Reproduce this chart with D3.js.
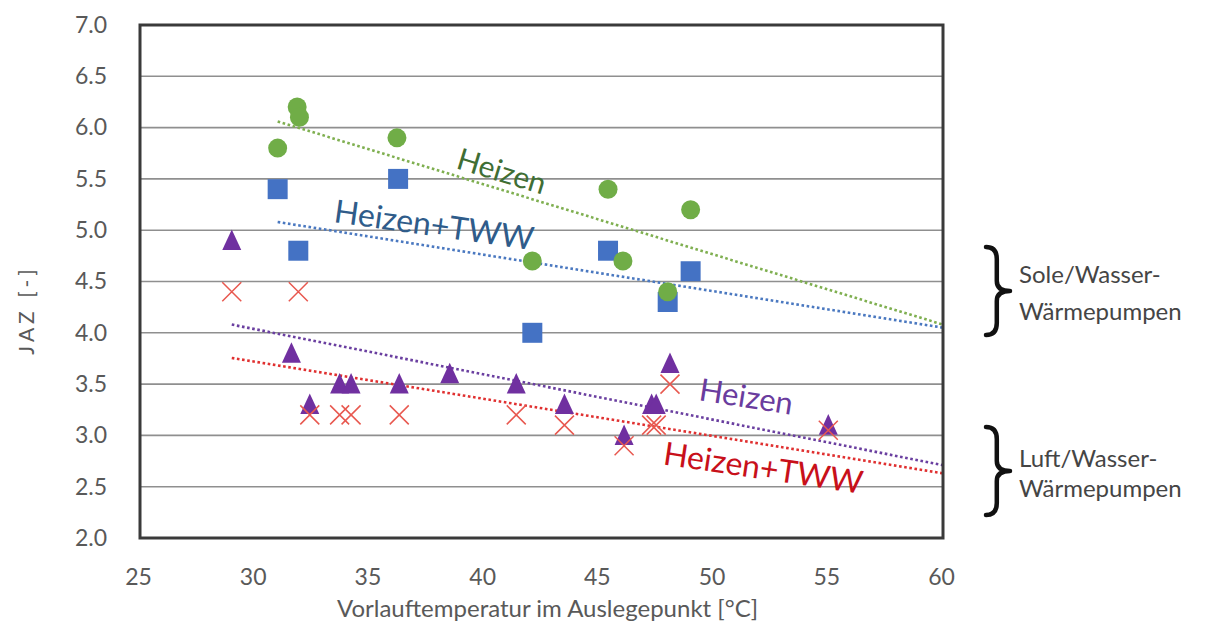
<!DOCTYPE html>
<html><head><meta charset="utf-8">
<script src="https://cdn.jsdelivr.net/npm/d3@7"></script>
<style>
body{margin:0;background:#fff}
svg{display:block;font-family:Lato,"Open Sans",sans-serif}
</style>
</head><body>
<svg id="chart" width="1206" height="626"></svg>
<script>
// ---- data ----
const xTicks = [25, 30, 35, 40, 45, 50, 55, 60];
const yTicks = [2.0, 2.5, 3.0, 3.5, 4.0, 4.5, 5.0, 5.5, 6.0, 6.5, 7.0];

// Sole/Wasser – Heizen (green circles)
const soleHeizenX = [31.0, 31.85, 31.95, 36.2, 42.1, 45.4, 46.05, 49.0, 48.0];
const soleHeizenY = [5.8, 6.2, 6.1, 5.9, 4.7, 5.4, 4.7, 5.2, 4.4];
// Sole/Wasser – Heizen+TWW (blue squares)
const soleTwwX = [31.0, 31.9, 36.25, 42.1, 45.4, 48.0, 49.0];
const soleTwwY = [5.4, 4.8, 5.5, 4.0, 4.8, 4.3, 4.6];
// Luft/Wasser – Heizen (purple triangles)
const luftHeizenX = [29.0, 31.6, 32.4, 33.7, 34.2, 36.3, 38.5, 41.4, 43.5, 46.1, 47.3, 47.5, 48.1, 55.0];
const luftHeizenY = [4.9, 3.8, 3.3, 3.5, 3.5, 3.5, 3.6, 3.5, 3.3, 3.0, 3.3, 3.3, 3.7, 3.1];
// Luft/Wasser – Heizen+TWW (red crosses)
const luftTwwX = [29.0, 31.9, 32.4, 33.7, 34.2, 36.3, 41.4, 43.5, 46.1, 47.3, 47.5, 48.1, 55.0];
const luftTwwY = [4.4, 4.4, 3.2, 3.2, 3.2, 3.2, 3.2, 3.1, 2.9, 3.1, 3.1, 3.5, 3.05];

// trendlines (start / end)
const trendNames = ["soleHeizen", "soleTww", "luftHeizen", "luftTww"];
const trendX0 = [31, 31, 29, 29];
const trendY0 = [6.06, 5.08, 4.08, 3.755];
const trendX1 = [60, 60, 60, 60];
const trendY1 = [4.08, 4.05, 2.71, 2.63];

const labelTexts = ["Heizen", "Heizen+TWW", "Heizen", "Heizen+TWW"];
const labelX = [38.73, 33.41, 49.32, 47.76];
const labelY = [5.606, 5.08, 3.345, 2.72];

const xTitle = "Vorlauftemperatur im Auslegepunkt [°C]";
const yTitle = "JAZ [-]";
const groupLine1 = ["Sole/Wasser-", "Luft/Wasser-"];
const groupLine2 = ["Wärmepumpen", "Wärmepumpen"];

// ---- styles ----
const cGreen = "#70AD47", cBlue = "#4472C4", cPurple = "#7030A0", cRed = "#E8584F";
const trendColors = ["#7FAF50", "#4A78C0", "#6A3FA0", "#E03030"];
const labelColors = ["#3F6E34", "#2F5C8A", "#6A3C9E", "#C8101A"];
const labelSizes = [30, 32, 31, 32];
const labelAngles = [17, 8, 9, 8.5];

const svg = d3.select("#chart");
svg.append("rect").attr("width", 1206).attr("height", 626).attr("fill", "#fff");

const x = d3.scaleLinear().domain([25, 60]).range([140, 943]);
const y = d3.scaleLinear().domain([2, 7]).range([538, 25]);

// gridlines
svg.append("g").selectAll("line").data(yTicks.filter(v => v > 2 && v < 7)).join("line")
  .attr("x1", x(25)).attr("x2", x(60))
  .attr("y1", d => y(d)).attr("y2", d => y(d))
  .attr("stroke", "#8f8f8f").attr("stroke-width", 1.6);

// axes
const xAxis = svg.append("g").attr("transform", `translate(0,${y(2)})`)
  .call(d3.axisBottom(x).tickValues(xTicks).tickSize(0).tickPadding(31).tickFormat(d3.format("d")));
const yAxis = svg.append("g").attr("transform", `translate(${x(25)},0)`)
  .call(d3.axisLeft(y).tickValues(yTicks).tickSize(0).tickPadding(33).tickFormat(d3.format(".1f")));
[xAxis, yAxis].forEach(a => {
  a.select(".domain").remove();
  a.selectAll("text").attr("fill", "#595959").style("font-size", "23px").style("font-family", "Lato");
});
xAxis.selectAll("text").attr("dx", "-2px");

// trendlines
const line = d3.line().x(d => x(d[0])).y(d => y(d[1]));
svg.append("g").selectAll("path").data(trendNames.map((n, i) => ({
  n, c: trendColors[i], pts: [[trendX0[i], trendY0[i]], [trendX1[i], trendY1[i]]]
}))).join("path")
  .attr("d", d => line(d.pts))
  .attr("fill", "none").attr("stroke", d => d.c)
  .attr("stroke-width", 2.6).attr("stroke-dasharray", "2.6 2.6");

// custom marker types
const triangleType = { draw(ctx, s) { const h = s; ctx.moveTo(0, -h * 0.58); ctx.lineTo(h * 0.5, h * 0.5); ctx.lineTo(-h * 0.5, h * 0.5); ctx.closePath(); } };
const squareType = { draw(ctx, s) { ctx.rect(-s / 2, -s / 2, s, s); } };
const crossType = { draw(ctx, s) { const r = s / 2; ctx.moveTo(-r, -r); ctx.lineTo(r, r); ctx.moveTo(r, -r); ctx.lineTo(-r, r); } };

function pts(xs, ys) { return xs.map((v, i) => [v, ys[i]]); }

// blue squares
svg.append("g").selectAll("path").data(pts(soleTwwX, soleTwwY)).join("path")
  .attr("transform", d => `translate(${x(d[0])},${y(d[1])})`)
  .attr("d", d3.symbol().type(squareType).size(20)())
  .attr("fill", cBlue);
// green circles
svg.append("g").selectAll("circle").data(pts(soleHeizenX, soleHeizenY)).join("circle")
  .attr("cx", d => x(d[0])).attr("cy", d => y(d[1])).attr("r", 9.5)
  .attr("fill", cGreen);
// purple triangles
svg.append("g").selectAll("path").data(pts(luftHeizenX, luftHeizenY)).join("path")
  .attr("transform", d => `translate(${x(d[0])},${y(d[1])})`)
  .attr("d", d3.symbol().type(triangleType).size(19)())
  .attr("fill", cPurple);
// red crosses
svg.append("g").selectAll("path").data(pts(luftTwwX, luftTwwY)).join("path")
  .attr("transform", d => `translate(${x(d[0])},${y(d[1])})`)
  .attr("d", d3.symbol().type(crossType).size(19)())
  .attr("fill", "none").attr("stroke", cRed).attr("stroke-width", 1.5);

// plot border
svg.append("rect").attr("x", x(25)).attr("y", y(7))
  .attr("width", x(60) - x(25)).attr("height", y(2) - y(7))
  .attr("fill", "none").attr("stroke", "#3a3a3a").attr("stroke-width", 3);

// trend labels
svg.append("g").selectAll("text").data(labelTexts).join("text")
  .attr("transform", (d, i) => `translate(${x(labelX[i])},${y(labelY[i])}) rotate(${labelAngles[i]})`)
  .attr("fill", (d, i) => labelColors[i])
  .style("font-size", (d, i) => labelSizes[i] + "px")
  .text(d => d);

// axis titles
svg.append("text").attr("x", (x(25) + x(60)) / 2 + 6).attr("y", 617)
  .attr("text-anchor", "middle").attr("fill", "#595959").style("font-size", "24px")
  .text(xTitle);
svg.append("text").attr("transform", "translate(34,310) rotate(-90)")
  .attr("text-anchor", "middle").attr("fill", "#595959").style("font-size", "21px")
  .style("letter-spacing", "4px").text(yTitle);

// group braces + labels
const braceTop = [247, 427], braceBot = [335, 515];
function bracePath(x0, t, b, w) {
  const m = (t + b) / 2, xm = x0 + w * 0.45;
  return `M${x0},${t} Q${xm},${t} ${xm},${t + 12} L${xm},${m - 10} Q${xm},${m} ${x0 + w},${m} ` +
         `Q${xm},${m} ${xm},${m + 10} L${xm},${b - 12} Q${xm},${b} ${x0},${b}`;
}
const g = svg.append("g");
[0, 1].forEach(i => {
  g.append("path").attr("d", bracePath(986, braceTop[i], braceBot[i], 24))
    .attr("fill", "none").attr("stroke", "#111").attr("stroke-width", 4.5)
    .attr("stroke-linecap", "round").attr("stroke-linejoin", "round");
  const ty = i === 0 ? [283, 320] : [467, 497];
  g.append("text").attr("x", 1019).attr("y", ty[0]).attr("fill", "#454545").style("font-size", "24px").text(groupLine1[i]);
  g.append("text").attr("x", 1019).attr("y", ty[1]).attr("fill", "#454545").style("font-size", "24px").text(groupLine2[i]);
});
</script>
</body></html>
